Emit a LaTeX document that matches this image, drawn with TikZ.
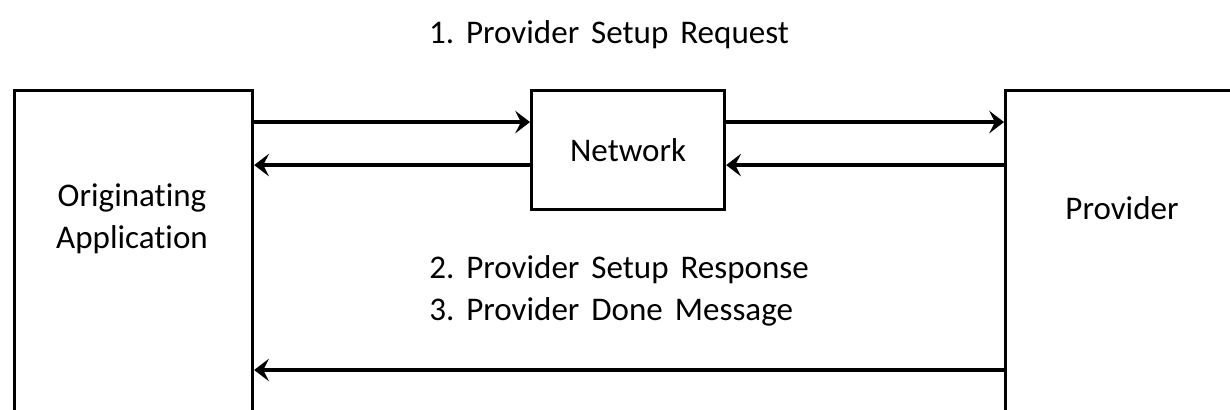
\documentclass[tikz,border=0pt]{standalone}
\usepackage{fontspec}
\setmainfont{Carlito}[Ligatures=NoCommon,WordSpace=1.6]
\usepackage{tikz}
\usetikzlibrary{arrows.meta,positioning}
\frenchspacing

\begin{document}
\begin{tikzpicture}[
        >={Stealth[length=4.2pt,width=6.4pt,inset=1.6pt]},
        line width=0.9pt,
        font=\fontsize{9.4}{12}\selectfont,
        box/.style={draw, rectangle, inner sep=0pt},
        flow/.style={->}
        ]
        \useasboundingbox (0,0) rectangle (12.3,4.1);
        \clip (0,0) rectangle (12.3,4.1);

        \node[box, anchor=north west, minimum width=2.38cm, minimum height=4cm] (orig) at (0.13,3.21) {};
        \node[box, anchor=north west, minimum width=1.93cm, minimum height=1.19cm] (net) at (5.30,3.21) {Network};
        \node[box, anchor=north west, minimum width=3cm, minimum height=4cm] (prov) at (10.04,3.21) {};

        \node[align=center] (origtext) at (1.32,1.91) {Originating\\Application};
        \node (provtext) at (11.22,2.02) {Provider};

        \node (req) at (6.09,3.75) {1. Provider Setup Request};
        \node[align=left, anchor=west] (resp) at (4.16,1.19) {2. Provider Setup Response\\3. Provider Done Message};

        % request
        \coordinate (n1) at ([yshift=2.8mm]net.west);
        \coordinate (n2) at ([yshift=-1.5mm]net.west);
        \coordinate (m1) at ([yshift=2.8mm]net.east);
        \coordinate (m2) at ([yshift=-1.5mm]net.east);
        \coordinate (p3) at (prov.west |- 0,0.40);

        \draw[flow] (orig.east |- n1) -- (n1);
        \draw[flow] (m1) -- (prov.west |- m1);
        % response
        \draw[flow] (prov.west |- m2) -- (m2);
        \draw[flow] (n2) -- (orig.east |- n2);
        % done
        \draw[flow] (p3) -- (orig.east |- p3);
\end{tikzpicture}
\end{document}
